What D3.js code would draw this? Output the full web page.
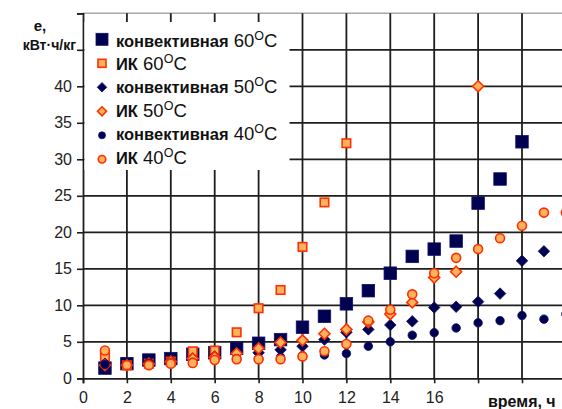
<!DOCTYPE html>
<html>
<head>
<meta charset="utf-8">
<script src="https://cdn.jsdelivr.net/npm/d3@7"></script>
<style>
  html, body { margin: 0; padding: 0; background: #fff; }
  svg { display: block; font-family: "Liberation Sans", Arial, sans-serif; }
</style>
</head>
<body>
<svg id="chart" width="562" height="409"></svg>
<script>
// Specific energy consumption e (kWh/kg) over drying time (h)
const hours = [1, 2, 3, 4, 5, 6, 7, 8, 9, 10, 11, 12, 13, 14, 15, 16, 17, 18, 19, 20, 21, 22];

const conv60 = [1.4, 2.0, 2.5, 2.7, 3.3, 3.5, 4.1, 4.8, 5.3, 7.0, 8.5, 10.2, 12.0, 14.4, 16.7, 17.7, 18.8, 24.0, 27.3, 32.4];
const ik60   = [3.0, 1.8, 2.0, 2.3, 3.7, 3.8, 6.3, 9.6, 12.1, 18.0, 24.1, 32.2];
const conv50 = [2.0, 1.9, 2.2, 2.4, 2.7, 3.0, 3.5, 3.5, 3.9, 4.4, 5.3, 6.3, 6.7, 7.3, 7.8, 9.7, 9.8, 10.5, 11.6, 16.1, 17.4];
const ik50   = [1.8, 1.8, 2.0, 2.3, 2.7, 2.9, 3.4, 4.1, 4.9, 5.2, 6.1, 6.7, 7.7, 8.8, 10.4, 13.8, 14.6, 40.0];
const conv40 = [1.9, 1.9, 2.0, 2.1, 2.2, 2.5, 2.7, 2.7, 2.9, 3.1, 3.2, 3.4, 4.4, 5.0, 5.9, 6.25, 6.9, 7.6, 7.9, 8.6, 8.1, 8.8];
const ik40   = [3.8, 1.8, 1.8, 2.0, 2.1, 2.5, 2.6, 2.6, 2.6, 3.0, 3.7, 4.7, 7.9, 9.4, 11.5, 14.4, 16.5, 17.7, 19.2, 20.9, 22.7, 22.7];

const methods = ["конвективная", "ИК", "конвективная", "ИК", "конвективная", "ИК"];
const temps = ["60", "60", "50", "50", "40", "40"];
const xTickValues = [0, 2, 4, 6, 8, 10, 12, 14, 16, 18, 20, 22];
const xTickLabels = ["0", "2", "4", "6", "8", "10", "12", "14", "16", "", "", ""];
const yTickValues = [0, 5, 10, 15, 20, 25, 30, 35, 40, 45, 50];
const yTickLabels = ["0", "5", "10", "15", "20", "25", "30", "35", "40", "", ""];

const NAVY = "#000050";
const FILL = "#FFB35C";
const EDGE = "#FF3000";
const GRID = "#1e1e1e";

const series = [
  { values: conv60, shape: "square",  size: 12.5, legendSize: 12,  fill: NAVY, stroke: "#10106a", sw: 0.8 },
  { values: ik60,   shape: "square",  size: 8.5,  legendSize: 8,   fill: FILL, stroke: EDGE, sw: 1.6 },
  { values: conv50, shape: "diamond", size: 11.5, legendSize: 9.5, fill: NAVY, stroke: "#10106a", sw: 0.8 },
  { values: ik50,   shape: "diamond", size: 11,   legendSize: 9,   fill: FILL, stroke: EDGE, sw: 1.6 },
  { values: conv40, shape: "circle",  size: 8.5,  legendSize: 7,   fill: NAVY, stroke: "#10106a", sw: 0.8 },
  { values: ik40,   shape: "circle",  size: 9,    legendSize: 7.5, fill: FILL, stroke: EDGE, sw: 1.6 }
];

const svg = d3.select("#chart");
const plotLeft = 83, plotTop = 13.3, plotBottom = 378.3;

const x = d3.scaleLinear().domain([0, 22]).range([plotLeft, plotLeft + 22 * 21.95]);
const y = d3.scaleLinear().domain([0, 50]).range([plotBottom, plotTop]);

// plot frame top edge
svg.append("line")
  .attr("x1", plotLeft).attr("x2", 562).attr("y1", plotTop).attr("y2", plotTop)
  .attr("stroke", "#a8a8a8").attr("stroke-width", 1.6);

// grid lines
const grid = svg.append("g");
grid.selectAll("line.h").data(yTickValues.filter(v => v > 0 && v < 50)).join("line")
  .attr("class", "h")
  .attr("x1", plotLeft).attr("x2", 562)
  .attr("y1", d => y(d)).attr("y2", d => y(d))
  .attr("stroke", GRID).attr("stroke-width", 1.8);
grid.selectAll("line.v").data(xTickValues.filter(v => v > 0)).join("line")
  .attr("class", "v")
  .attr("x1", d => x(d)).attr("x2", d => x(d))
  .attr("y1", plotTop).attr("y2", plotBottom)
  .attr("stroke", GRID).attr("stroke-width", 1.8);

// axes
const yAxis = d3.axisLeft(y).tickValues(yTickValues).tickSize(6).tickPadding(5)
  .tickFormat((d, i) => yTickLabels[i]);
const xAxis = d3.axisBottom(x).tickValues(xTickValues).tickSize(5).tickPadding(8)
  .tickFormat((d, i) => xTickLabels[i]);

const gy = svg.append("g").attr("transform", `translate(${plotLeft},0)`).call(yAxis);
const gx = svg.append("g").attr("transform", `translate(0,${plotBottom})`).call(xAxis);
[gy, gx].forEach(g => {
  g.select(".domain").attr("stroke", GRID).attr("stroke-width", 1.8);
  g.selectAll(".tick line").attr("stroke", GRID).attr("stroke-width", 1.6);
  g.selectAll(".tick text").attr("fill", "#222").style("font-size", "16px")
    .style("font-family", "'Liberation Sans', Arial, sans-serif");
});

// legend panel
svg.append("rect").attr("x", plotLeft + 1.5).attr("y", 22).attr("width", 205).attr("height", 148)
  .attr("fill", "#fff");

function drawMarker(g, s, cx, cy, size) {
  if (s.shape === "square") {
    g.append("rect")
      .attr("x", cx - size / 2).attr("y", cy - size / 2)
      .attr("width", size).attr("height", size)
      .attr("fill", s.fill).attr("stroke", s.stroke).attr("stroke-width", s.sw);
  } else if (s.shape === "diamond") {
    const r = size / 2;
    g.append("path")
      .attr("d", `M${cx},${cy - r}L${cx + r},${cy}L${cx},${cy + r}L${cx - r},${cy}Z`)
      .attr("fill", s.fill).attr("stroke", s.stroke).attr("stroke-width", s.sw);
  } else {
    g.append("circle").attr("cx", cx).attr("cy", cy).attr("r", size / 2)
      .attr("fill", s.fill).attr("stroke", s.stroke).attr("stroke-width", s.sw);
  }
}

// data markers, later series drawn on top
const marks = svg.append("g");
series.forEach(s => {
  const g = marks.append("g");
  s.values.forEach((v, i) => drawMarker(g, s, x(hours[i]), y(v), s.size));
});

// legend entries
const legend = svg.append("g");
series.forEach((s, i) => {
  drawMarker(legend, s, 102, 39.3 + i * 24, s.legendSize);
  const t = legend.append("text").attr("x", 116).attr("y", 46.5 + i * 23.4).attr("fill", "#111");
  t.append("tspan").style("font-size", "16.5px").style("font-weight", "bold").text(methods[i]);
  t.append("tspan").style("font-size", "18.5px").text(" " + temps[i]);
  t.append("tspan").attr("dy", -7).style("font-size", "12.5px").text("O");
  t.append("tspan").attr("dy", 7).style("font-size", "18.5px").text("C");
});

// axis titles
svg.append("text").attr("x", 40).attr("y", 31).attr("text-anchor", "middle")
  .style("font-size", "15px").style("font-weight", "bold").attr("fill", "#111").text("e,");
svg.append("text").attr("x", 76).attr("y", 50).attr("text-anchor", "end")
  .style("font-size", "14px").style("font-weight", "bold").attr("fill", "#111").text("кВт·ч/кг");
svg.append("text").attr("x", 488).attr("y", 407)
  .style("font-size", "16px").style("font-weight", "bold").attr("fill", "#111").text("время, ч");
</script>
</body>
</html>
